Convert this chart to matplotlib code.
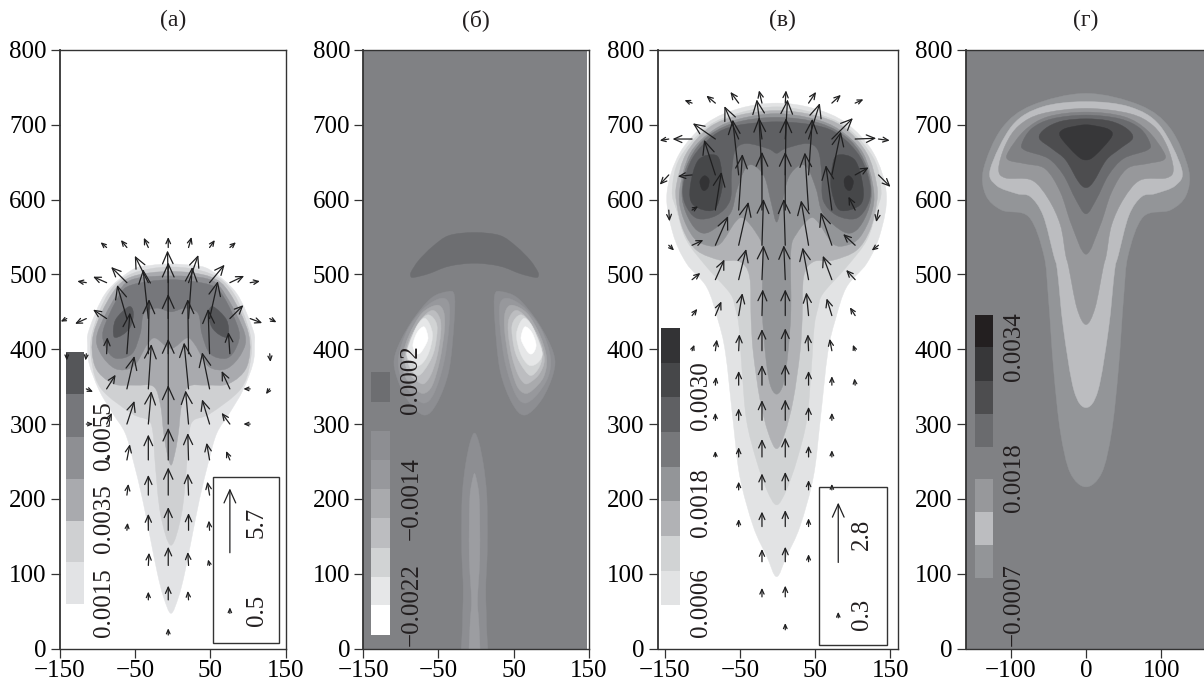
import numpy as np
import matplotlib
matplotlib.use('Agg')
import matplotlib.pyplot as plt
from matplotlib.path import Path
from matplotlib.patches import PathPatch, Rectangle

plt.rcParams['font.family'] = ['Liberation Serif', 'DejaVu Serif']
plt.rcParams['font.size'] = 18
plt.rcParams['text.color'] = '#231f20'
plt.rcParams['axes.unicode_minus'] = True

n = np.nan
BG = '#808184'

y_ticks = [0, 100, 200, 300, 400, 500, 600, 700, 800]
x_ticks_wide = [-150, -50, 50, 150]
x_ticks_d = [-100, 0, 100]

# ---- panel (a) contours, right half as (offset from axis, height)
a_center = -2.3
a_levels = [
    ('#e2e3e5', [(0, 47), (10, 69), (18, 100), (28, 150), (38, 200), (50, 250), (61, 288), (78, 315), (96, 346),
                 (109, 381), (111, 405), (109, 426), (87, 475), (52, 506), (28, 512), (0, 514)]),
    ('#cfd0d2', [(0, 138), (14, 180), (21, 247), (24, 288), (30, 305), (52, 314), (92, 346), (105, 381), (105, 421),
                 (83, 475), (52, 501), (0, 510)]),
    ('#a9aaae', [(0, 245), (6, 265), (10, 290), (14, 325), (23, 350), (48, 352), (77, 354), (101, 377), (103, 421),
                 (78, 475), (52, 497), (0, 504)]),
    ('#8e8f93', [(0, 401), (21, 415), (32, 406), (50, 377), (74, 374), (94, 395), (98, 421), (74, 470), (52, 493),
                 (0, 498)]),
    ('#76777b', [(0, 450), (19, 455), (36, 448), (41, 421), (52, 394), (74, 388), (87, 403), (90, 426), (70, 470),
                 (52, 486), (0, 493)]),
]
a_lobe = [(50, 448), (56, 457), (74, 439), (76, 417), (65, 419), (54, 430)]
a_lobe_color = '#555659'

a_cb_edges = [59, 115, 171, 227, 283, 340, 396]
a_cb_colors = ['#e2e3e5', '#cfd0d2', '#a9aaae', '#8e8f93', '#76777b', '#555659']
a_cb_left, a_cb_width = -142, 24
a_labels = ['0.0015', '0.0035', '0.0055']
a_label_y = [15, 127, 238]
a_label_x = -92

a_arrow_x = [-141, -115, -88, -61, -32.5, -6, 21, 49, 76, 103, 129]
a_arrow_y = [536, 489, 441, 394, 347, 300, 252, 205, 158, 111, 65, 18]
a_u = [
    [n, n, -8, -8, -6, 0, 4, 7, 8, n, n],
    [n, -12, -18, -21, -18, -1, 13, 20, 19, 13, n],
    [-8, -15, -18, -13, -7, 0, 5, 11, 18, 16, 9],
    [0, -1, 1, 4, 1, 0, -1, -2, -2, n, 1],
    [n, 9, 12, 10, 4, 0, -6, -10, -11, -9, -5],
    [n, 9, 7, 10, 4, 0, -4, -10, -11, -9, n],
    [n, n, 5, 4, 0, 0, -1, -4, -5, n, n],
    [n, n, n, 2, 0, 0, -1, -3, n, n, n],
    [n, n, n, 1, 0, 0, 0, -1, n, n, n],
    [n, n, n, n, 1, 0, -1, -2, n, n, n],
    [n, n, n, n, 0, 0, -1, n, n, n, n],
    [n, n, n, n, n, 0, n, n, n, n, n],
]
a_v = [
    [n, n, 7, 10, 13, 14, 14, 10, 7, n, n],
    [n, 2, 8, 21, 36, 43, 37, 24, 9, 2, n],
    [-4, -7, 12, 45, 66, 75, 69, 50, 18, -6, -5],
    [-9, -9, 22, 55, 73, 80, 73, 60, 29, n, -11],
    [n, -4, 19, 44, 60, 67, 62, 49, 24, 0, -7],
    [n, 0, 15, 31, 44, 52, 45, 33, 15, 0, n],
    [n, n, 5, 21, 34, 43, 36, 23, 12, n, n],
    [n, n, n, 15, 27, 37, 29, 18, n, n, n],
    [n, n, n, 10, 22, 31, 23, 13, n, n, n],
    [n, n, n, n, 17, 25, 18, 8, n, n, n],
    [n, n, n, n, 11, 19, 12, n, n, n, n],
    [n, n, n, n, n, 9, n, n, n, n, n],
]
a_box = (54, 7, 88, 222)
a_ref = [(76, 128, 86, '5.7', 169), (76, 47, 8, '0.5', 51)]
a_ref_text_x = 112

# ---- panel (б)
b_center = -2
b_arch_color = '#6d6e71'
b_arch = [(0, 556), (34, 552), (56, 537), (74, 519), (84, 504), (85, 498), (81, 496), (61, 501), (34, 511), (0, 515)]
b_vortex = [
    ('#8d8e92', [(27, 473), (36, 477), (58, 468), (85, 435), (105, 395), (105, 368), (89, 332), (67, 312), (50, 328),
                 (34, 372), (27, 439)]),
    ('#97989c', [(34, 461), (45, 468), (67, 455), (89, 426), (101, 390), (98, 363), (83, 339), (67, 328), (54, 341),
                 (41, 381), (34, 430)]),
    ('#a9aaad', [(41, 450), (50, 459), (70, 448), (87, 419), (96, 388), (92, 363), (78, 346), (67, 341), (56, 352),
                 (46, 386), (40, 426)]),
    ('#bcbdc0', [(46, 441), (56, 452), (72, 439), (87, 412), (93, 386), (87, 368), (76, 357), (67, 354), (58, 366),
                 (50, 390), (45, 421)]),
    ('#d1d3d4', [(50, 432), (61, 446), (74, 435), (87, 408), (90, 390), (85, 374), (74, 365), (61, 381), (53, 401)]),
    ('#e6e7e8', [(56, 421), (65, 441), (76, 432), (87, 406), (90, 392), (83, 381), (72, 379), (61, 395)]),
    ('#ffffff', [(62, 417), (67, 430), (76, 423), (82, 406), (78, 395), (72, 395), (64, 408)]),
]
b_stalk = [
    ('#8d8e92', [(0, 288), (6, 275), (12, 245), (16, 210), (17, 180), (17, 130), (15, 80), (16, 30), (16, -30)]),
    ('#9c9da1', [(0, 234), (3, 224), (6, 205), (7, 170), (7, 120), (5, 85), (4, 60), (6, 30), (7, -30)]),
]
b_bg_right = 148
b_cb_edges = [18, 58, 96, 135, 174, 213, 252, 291, 330, 369, 408]
b_cb_colors = ['#ffffff', '#e6e7e8', '#d1d3d4', '#bcbdc0', '#a9aaad', '#97989c', '#8d8e92', BG, '#6d6e71']
b_cb_left, b_cb_width = -140, 25
b_labels = ['\u22120.0022', '\u22120.0014', '0.0002']
b_label_y = [4, 145, 314]
b_label_x = -86

# ---- panel (в)
c_center = -1.5
c_levels = [
    ('#e2e3e4', [(0, 96), (13, 123), (31, 163), (49, 230), (58, 305), (68, 395), (78, 439), (93, 483), (120, 515),
                 (138, 555), (146, 608), (129, 662), (93, 702), (49, 722), (0, 729)]),
    ('#d1d3d4', [(0, 192), (13, 212), (27, 252), (40, 305), (46, 372), (50, 430), (55, 455), (62, 475), (93, 510),
                 (120, 546), (133, 586), (139, 612), (129, 655), (93, 697), (49, 716), (0, 724)]),
    ('#b1b2b5', [(0, 267), (11, 288), (22, 332), (31, 395), (34, 440), (36, 497), (49, 517), (75, 519), (106, 532),
                 (124, 559), (133, 595), (133, 621), (120, 662), (89, 697), (49, 713), (0, 719)]),
    ('#939598', [(0, 340), (9, 354), (15, 395), (19, 452), (19, 532), (27, 555), (44, 575), (55, 570), (75, 541),
                 (93, 539), (111, 550), (126, 581), (129, 613), (115, 662), (84, 693), (49, 708), (0, 715)]),
    ('#77787b', [(0, 570), (7, 595), (16, 630), (31, 646), (42, 641), (53, 613), (62, 581), (89, 557), (106, 559),
                 (120, 581), (126, 608), (120, 644), (98, 679), (58, 702), (0, 710)]),
    ('#5f6063', [(0, 662), (11, 668), (40, 675), (55, 666), (60, 635), (62, 599), (80, 579), (106, 575), (122, 595),
                 (124, 621), (111, 657), (84, 686), (53, 699), (0, 704)]),
]
c_lobes = [
    ('#464749', [(73, 637), (80, 659), (104, 653), (115, 617), (111, 593), (84, 586), (73, 613)]),
    ('#333335', [(96, 632), (102, 625), (100, 615), (96, 612), (91, 617), (90, 627)]),
]
c_cb_edges = [58, 104, 150, 197, 243, 289, 336, 382, 428]
c_cb_colors = ['#e2e3e4', '#d1d3d4', '#b1b2b5', '#939598', '#77787b', '#5f6063', '#464749', '#333335']
c_cb_left, c_cb_width = -156, 25.5
c_labels = ['0.0006', '0.0018', '0.0030']
c_label_y = [15, 149, 292]
c_label_x = -102

c_arrow_x = [-145, -114, -83, -52, -21, 10, 41, 72, 103, 134]
c_arrow_y = [729, 681, 633, 586, 539, 493, 445, 398, 352, 305, 256, 212, 163, 116, 69, 25]
c_u = [
    [n, -10, -12, -11, -4, 1, 10, 12, 11, n],
    [-12, -26, -30, -19, -7, 3, 15, 28, 28, 15],
    [-12, -19, -15, -8, -4, 1, 5, 12, 18, 16],
    [1, 8, 8, 5, 0, 0, -5, -8, -9, -3],
    [7, 15, 17, 13, 2, -2, -10, -15, -16, -9],
    [n, 11, 12, 10, 2, -2, -8, -12, -12, n],
    [n, 7, 8, 5, 1, 0, -3, -7, -7, n],
    [n, 3, 2, 1, 0, 0, -1, -3, -3, n],
    [n, n, 1, 0, 0, 0, 0, 0, -1, n],
    [n, n, 0, 0, 0, 0, 0, 0, n, n],
    [n, n, 0, 0, 0, 0, 0, 0, n, n],
    [n, n, n, 0, 0, 0, 0, 0, n, n],
    [n, n, n, 0, 0, 0, 0, n, n, n],
    [n, n, n, n, 0, 0, 0, n, n, n],
    [n, n, n, n, 0, 0, n, n, n, n],
    [n, n, n, n, n, 0, n, n, n, n],
]
c_v = [
    [n, 4, 10, 15, 17, 17, 15, 11, 5, n],
    [-2, 0, 21, 44, 53, 53, 48, 28, 1, -2],
    [-13, -2, 47, 74, 77, 76, 75, 58, 10, -16],
    [-15, 5, 51, 75, 78, 78, 77, 60, 18, -16],
    [-7, 7, 39, 58, 62, 62, 60, 44, 15, -7],
    [n, 9, 27, 41, 46, 46, 43, 32, 13, n],
    [n, 9, 19, 30, 35, 35, 31, 23, 11, n],
    [n, 8, 15, 22, 29, 30, 22, 16, 8, n],
    [n, n, 11, 19, 27, 28, 19, 12, 9, n],
    [n, n, 10, 16, 27, 28, 18, 10, n, n],
    [n, n, 8, 13, 24, 26, 15, 9, n, n],
    [n, n, n, 11, 22, 24, 13, 8, n, n],
    [n, n, n, 10, 20, 22, 11, n, n, n],
    [n, n, n, n, 17, 20, 10, n, n, n],
    [n, n, n, n, 12, 15, n, n, n, n],
    [n, n, n, n, n, 9, n, n, n, n],
]
c_box = (55.3, 4.5, 90.3, 211.5)
c_ref = [(80.5, 115, 80, '2.8', 152), (80.5, 41, 8, '0.3', 45)]
c_ref_text_x = 111.5

# ---- panel (г)
d_levels = [
    ('#939598', [(0, 216), (21, 235), (34, 290), (43, 373), (50, 470), (56, 526), (76, 577), (112, 586), (133, 606),
                 (136, 641), (112, 695), (72, 726), (0, 742)]),
    ('#bcbdc0', [(0, 322), (16, 345), (30, 428), (38, 505), (43, 526), (57, 579), (74, 604), (92, 608), (119, 619),
                 (127, 641), (98, 699), (58, 724), (0, 731)]),
    ('#97989b', [(0, 433), (12, 455), (23, 510), (27, 526), (34, 566), (50, 601), (72, 626), (107, 629), (116, 641),
                 (107, 673), (89, 699), (58, 715), (0, 722)]),
    (BG, [(0, 527), (19, 566), (34, 610), (54, 641), (81, 648), (103, 653), (103, 664), (81, 693), (50, 711),
          (0, 717)]),
    ('#6a6b6e', [(0, 581), (14, 601), (30, 633), (50, 655), (81, 666), (85, 675), (72, 695), (45, 708), (0, 713)]),
    ('#4d4d4f', [(0, 616), (10, 624), (27, 653), (45, 668), (62, 682), (54, 695), (32, 705), (0, 708)]),
    ('#373739', [(0, 653), (12, 659), (34, 684), (30, 694), (10, 699), (0, 700)]),
]
d_cb_edges = [94, 138, 182, 226, 270, 314, 358, 403, 446]
d_cb_colors = ['#939598', '#bcbdc0', '#97989b', BG, '#6a6b6e', '#4d4d4f', '#373739', '#231f20']
d_cb_left, d_cb_width = -148, 24
d_labels = ['\u22120.0007', '0.0018', '0.0034']
d_label_y = [4, 183, 357]
d_label_x = -96


def smooth_patch(pts, color):
    # closed Catmull-Rom outline through the read points
    p = np.array(pts, float)
    m = len(p)
    verts = [p[0]]
    codes = [Path.MOVETO]
    for i in range(m):
        p0, p1, p2, p3 = p[(i - 1) % m], p[i], p[(i + 1) % m], p[(i + 2) % m]
        verts += [p1 + (p2 - p0) / 6, p2 - (p3 - p1) / 6, p2]
        codes += [Path.CURVE4] * 3
    return PathPatch(Path(verts, codes), facecolor=color, edgecolor=color, lw=0.3)


def draw_sym(ax, chain, color, center):
    right = [(center + x, y) for x, y in chain]
    left = [(center - x, y) for x, y in chain[::-1] if x != 0]
    ax.add_patch(smooth_patch(right + left, color))


def draw_pair(ax, loop, color, center):
    ax.add_patch(smooth_patch([(center + x, y) for x, y in loop], color))
    ax.add_patch(smooth_patch([(center - x, y) for x, y in loop], color))


def arrow(ax, x, y, u, v):
    px = np.hypot(u, v) * 0.75
    hl = min(13, 2 + 0.3 * px) * 0.72
    style = '->,head_length=%.2f,head_width=%.2f' % (hl, hl * 0.45)
    ax.annotate('', xy=(x + u, y + v), xytext=(x, y), annotation_clip=False,
                arrowprops=dict(arrowstyle=style, lw=0.9, color='#1f1f20', shrinkA=0, shrinkB=0,
                                mutation_scale=1))


def draw_field(ax, xs, ys, us, vs):
    for j, y in enumerate(ys):
        for i, x in enumerate(xs):
            if not np.isnan(us[j][i]):
                arrow(ax, x, y, us[j][i], vs[j][i])


def colorbar(ax, left, width, edges, colors):
    for k, col in enumerate(colors):
        ax.bar(left, edges[k + 1] - edges[k], width=width, bottom=edges[k], align='edge', color=col, lw=0)


def cb_labels(ax, x, ys, labels):
    for y, s in zip(ys, labels):
        ax.text(x, y, s, rotation=90, ha='center', va='bottom', fontsize=18, zorder=6)


def ref_box(ax, box, refs, text_x):
    ax.add_patch(Rectangle(box[:2], box[2], box[3], fill=False, ec='#333333', lw=1.0, zorder=5))
    for x, y, v, s, ty in refs:
        arrow(ax, x, y, 0, v)
        ax.text(text_x, ty, s, rotation=90, ha='center', va='center', fontsize=18, zorder=6)


W, H = 1204.0, 685.0
fig = plt.figure(figsize=(W / 100, H / 100), dpi=100)


def make_axes(left, right, xlim, ticks, title, title_x=0.5):
    ax = fig.add_axes([left / W, (H - 648.5) / H, (right - left) / W, 598.5 / H])
    ax.set_xlim(*xlim)
    ax.set_ylim(0, 800)
    ax.set_xticks(ticks)
    ax.set_yticks(y_ticks)
    ax.set_xticklabels([str(t).replace('-', '\u2212') for t in ticks])
    ax.tick_params(direction='out', length=6.5, width=0.9, color='#333333', labelsize=18)
    ax.tick_params(axis='y', pad=3)
    ax.tick_params(axis='x', pad=2)
    for s in ax.spines.values():
        s.set_linewidth(1.0)
        s.set_color('#333333')
    ax.spines['left'].set_linewidth(1.3)
    ax.set_title(title, fontsize=17, x=title_x, pad=17)
    return ax


# (a)
ax = make_axes(60, 285.5, (-150, 150), x_ticks_wide, '(а)')
for col, chain in a_levels:
    draw_sym(ax, chain, col, a_center)
draw_pair(ax, a_lobe, a_lobe_color, a_center)
colorbar(ax, a_cb_left, a_cb_width, a_cb_edges, a_cb_colors)
draw_field(ax, a_arrow_x, a_arrow_y, a_u, a_v)
cb_labels(ax, a_label_x, a_label_y, a_labels)
ref_box(ax, a_box, a_ref, a_ref_text_x)

# (б)
ax = make_axes(363.3, 588.7, (-150, 150), x_ticks_wide, '(б)')
ax.add_patch(Rectangle((-150, 0), 150 + b_bg_right, 800, fc=BG, ec='none'))
draw_sym(ax, b_arch, b_arch_color, b_center)
for col, loop in b_vortex:
    draw_pair(ax, loop, col, b_center)
for col, chain in b_stalk:
    draw_sym(ax, chain, col, b_center)
colorbar(ax, b_cb_left, b_cb_width, b_cb_edges, b_cb_colors)
cb_labels(ax, b_label_x, b_label_y, b_labels)

# (в)
ax = make_axes(657.5, 898, (-160, 160), x_ticks_wide, '(в)', 0.52)
for col, chain in c_levels:
    draw_sym(ax, chain, col, c_center)
for col, loop in c_lobes:
    draw_pair(ax, loop, col, c_center)
colorbar(ax, c_cb_left, c_cb_width, c_cb_edges, c_cb_colors)
draw_field(ax, c_arrow_x, c_arrow_y, c_u, c_v)
cb_labels(ax, c_label_x, c_label_y, c_labels)
ref_box(ax, c_box, c_ref, c_ref_text_x)

# (г)
ax = make_axes(965.5, 1206.5, (-160, 160), x_ticks_d, '(г)')
ax.set_facecolor(BG)
for col, chain in d_levels:
    draw_sym(ax, chain, col, 0)
colorbar(ax, d_cb_left, d_cb_width, d_cb_edges, d_cb_colors)
cb_labels(ax, d_label_x, d_label_y, d_labels)

fig.savefig('out.png', dpi=100)
